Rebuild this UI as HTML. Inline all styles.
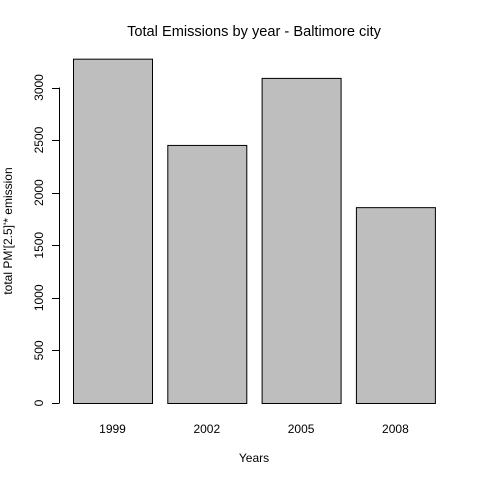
<!DOCTYPE html>
<html><head><meta charset="utf-8"><style>
body{margin:0;background:#fff}
text{font-family:"Liberation Sans",Arial,sans-serif;font-size:12px;fill:#000}
</style></head><body>
<svg id="chart" width="480" height="480">
<text x="254" y="36" text-anchor="middle" style="font-size:14.6px">Total Emissions by year - Baltimore city</text>
<text x="254" y="462" text-anchor="middle">Years</text>
<text transform="translate(12,231) rotate(-90)" text-anchor="middle">total PM'[2.5]'* emission</text>
<g id="bars"></g><g id="yaxis"></g><g id="xlabels"></g>
</svg>
<script>
const categories=["1999","2002","2005","2008"];
const values=[3274.18,2453.92,3091.35,1862.28];
const yTicks=[0,500,1000,1500,2000,2500,3000];
const ns="http://www.w3.org/2000/svg";
const y0=403,k=(403-87.5)/3000;
function ys(v){return y0-v*k;}
function xs(i){return 73+i*94.3;}
const bw=79;
const bars=document.getElementById('bars'),ya=document.getElementById('yaxis'),xl=document.getElementById('xlabels');
values.forEach((v,i)=>{
 const r=document.createElementNS(ns,'rect');
 
 
 r.setAttribute('x',xs(i)+0.5);r.setAttribute('y',ys(v)+0.5);
 r.setAttribute('width',bw);r.setAttribute('height',y0-ys(v));
 r.setAttribute('fill','#bebebe');r.setAttribute('stroke','#000');
 bars.appendChild(r);
 const t=document.createElementNS(ns,'text');
 
 
 t.setAttribute('x',xs(i)+bw/2);t.setAttribute('y',433);t.setAttribute('text-anchor','middle');
 t.textContent=categories[i];xl.appendChild(t);
});
const ax=document.createElementNS(ns,'line');


ax.setAttribute('x1',59.5);ax.setAttribute('x2',59.5);ax.setAttribute('y1',ys(0));ax.setAttribute('y2',ys(3000));ax.setAttribute('stroke','#000');
ya.appendChild(ax);
yTicks.forEach(v=>{
 const l=document.createElementNS(ns,'line');
 
 
 l.setAttribute('x1',52);l.setAttribute('x2',59.5);l.setAttribute('y1',Math.round(ys(v))+0.5);l.setAttribute('y2',Math.round(ys(v))+0.5);l.setAttribute('stroke','#000');
 ya.appendChild(l);
 const t=document.createElementNS(ns,'text');
 
 
 t.setAttribute('transform','translate(43,'+ys(v)+') rotate(-90)');t.setAttribute('text-anchor','middle');
 t.textContent=v;ya.appendChild(t);
});
</script>
</body></html>
